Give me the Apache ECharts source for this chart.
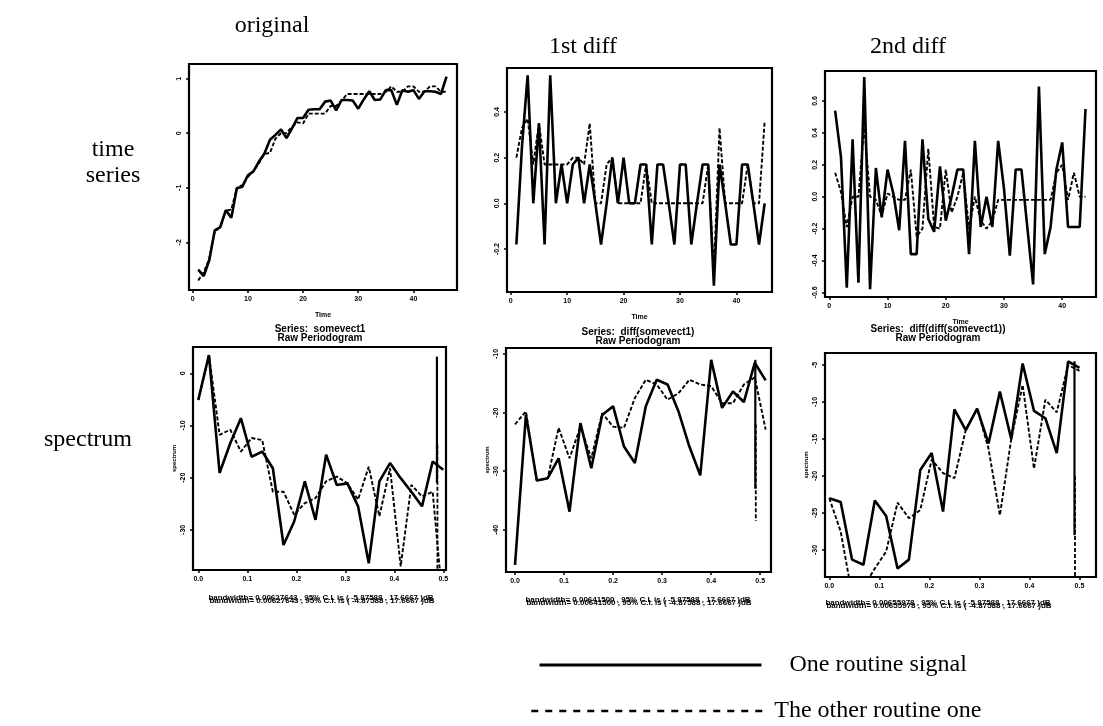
<!DOCTYPE html>
<html><head><meta charset="utf-8">
<script src="https://cdn.jsdelivr.net/npm/echarts@6/dist/echarts.min.js"></script>
<style>html,body{margin:0;padding:0;background:#fff}#c{width:1103px;height:726px}</style>
</head><body><div id="c"></div>
<script>
// ---- time series: original, 1st and 2nd differences ----
const origA = [-2.5, -2.62, -2.33, -1.78, -1.72, -1.41, -1.55, -1.01, -0.98, -0.77, -0.7, -0.52, -0.37, -0.12, -0.03, 0.07, -0.09, 0.09, 0.28, 0.28, 0.43, 0.44, 0.44, 0.58, 0.6, 0.42, 0.61, 0.61, 0.6, 0.45, 0.62, 0.77, 0.61, 0.62, 0.79, 0.79, 0.52, 0.79, 0.76, 0.79, 0.63, 0.77, 0.77, 0.76, 0.72, 1.04];
const origB = [-2.7, -2.55, -2.3, -1.8, -1.72, -1.42, -1.4, -1.0, -0.95, -0.8, -0.7, -0.55, -0.38, -0.36, -0.1, 0.0, 0.0, 0.12, 0.2, 0.18, 0.36, 0.36, 0.36, 0.36, 0.5, 0.5, 0.6, 0.72, 0.72, 0.72, 0.72, 0.72, 0.72, 0.72, 0.76, 0.86, 0.76, 0.76, 0.86, 0.86, 0.76, 0.76, 0.86, 0.86, 0.76, 0.76];
const diff1A = [-0.18, 0.25, 0.56, 0.0, 0.35, -0.18, 0.56, 0.0, 0.17, 0.0, 0.17, 0.2, 0.0, 0.17, 0.0, -0.18, 0.0, 0.2, 0.0, 0.2, 0.0, 0.0, 0.17, 0.17, -0.18, 0.17, 0.17, 0.0, -0.18, 0.17, 0.17, -0.18, 0.0, 0.17, 0.17, -0.36, 0.17, 0.0, -0.18, -0.18, 0.17, 0.17, 0.0, -0.18, 0.0];
const diff1B = [0.2, 0.33, 0.37, 0.17, 0.35, 0.17, 0.17, 0.17, 0.17, 0.17, 0.2, 0.2, 0.17, 0.35, 0.0, 0.0, 0.17, 0.2, 0.0, 0.0, 0.0, 0.0, 0.0, 0.17, 0.0, 0.0, 0.0, 0.0, 0.0, 0.0, 0.0, 0.0, 0.0, 0.0, 0.17, -0.3, 0.33, 0.0, 0.0, 0.0, 0.0, 0.17, 0.0, 0.0, 0.36];
const diff2A = [0.54, 0.25, -0.57, 0.36, -0.54, 0.75, -0.58, 0.18, -0.13, 0.17, 0.02, -0.21, 0.35, -0.36, -0.36, 0.36, -0.14, -0.22, 0.19, -0.15, 0.0, 0.17, 0.17, -0.36, 0.35, -0.19, 0.0, -0.19, 0.35, 0.05, -0.37, 0.17, 0.17, -0.19, -0.55, 0.69, -0.36, -0.19, 0.17, 0.34, -0.19, -0.19, -0.19, 0.55];
const diff2B = [0.15, 0.03, -0.19, 0.0, 0.0, 0.45, 0.0, -0.02, -0.12, 0.02, 0.0, -0.02, -0.02, 0.17, -0.25, -0.2, 0.3, -0.19, -0.2, 0.17, -0.1, 0.0, 0.15, -0.2, 0.0, -0.15, -0.2, -0.15, -0.02, -0.02, -0.02, -0.02, -0.02, -0.02, -0.02, -0.02, -0.02, -0.02, 0.15, 0.2, -0.02, 0.15, 0.0, 0.0];

// ---- raw periodograms (dB) ----
const specOrigA = [-5.1, 3.5, -19.1, -13.4, -8.6, -16.0, -15.0, -18.2, -32.9, -28.4, -20.7, -28.1, -15.6, -21.4, -21.1, -25.5, -36.4, -20.7, -17.2, -20.1, -22.7, -25.5, -16.9, -18.5];
const specOrigB = [-5.1, 3.5, -11.8, -10.8, -15.0, -12.4, -12.8, -22.7, -22.7, -27.1, -24.9, -23.9, -20.7, -19.8, -21.1, -24.2, -17.9, -27.4, -18.2, -37.0, -21.4, -23.6, -22.7, -45.0];
const specD1A = [-46.0, -20.4, -31.6, -31.2, -27.8, -36.9, -21.8, -29.5, -20.4, -18.9, -25.8, -28.6, -18.9, -14.4, -15.2, -19.8, -25.8, -30.7, -11.0, -19.2, -16.4, -18.2, -11.5, -14.5];
const specD1B = [-22.0, -19.8, -31.6, -31.2, -22.6, -27.8, -22.4, -27.8, -20.1, -22.4, -22.6, -17.5, -14.4, -15.2, -17.8, -16.7, -14.4, -15.2, -15.5, -18.4, -18.4, -15.2, -14.0, -22.9];
const specD2A = [-23.0, -23.5, -31.3, -32.0, -23.3, -25.4, -32.5, -31.3, -19.2, -16.9, -24.8, -11.0, -13.8, -10.9, -15.6, -8.6, -15.0, -4.8, -11.2, -12.2, -16.9, -4.5, -5.4];
const specD2B = [-23.0, -27.5, -36.0, -35.0, -32.5, -30.2, -23.6, -25.7, -24.6, -17.8, -19.6, -20.3, -13.8, -10.9, -16.3, -25.3, -15.0, -7.7, -19.0, -9.7, -11.4, -5.0, -5.8];

// frequency grids (cycles per observation)
const freqOrig = specOrigA.map((_, k) => k / 46);
const freqD1 = specD1A.map((_, k) => k / 45);
const freqD2 = specD2A.map((_, k) => k / 44);

// confidence-interval bars drawn in the corner of each periodogram: [freq, top, bottom]
const ciOrigA = [0.487, 3.2, -21.0], ciOrigB = [0.488, -13.7, -40.0];
const ciD1A = [0.49, -11.0, -33.0], ciD1B = [0.491, -22.0, -38.5];
const ciD2A = [0.49, -4.5, -28.0], ciD2B = [0.491, -20.0, -40.0];

// tick labels
const timeTicks = [0, 10, 20, 30, 40];
const origTicks = [-2, -1, 0, 1];
const diff1Ticks = [-0.2, 0.0, 0.2, 0.4];
const diff2Ticks = [-0.6, -0.4, -0.2, 0.0, 0.2, 0.4, 0.6];
const freqTicks = [0.0, 0.1, 0.2, 0.3, 0.4, 0.5];
const specOrigTicks = [-30, -20, -10, 0];
const specD1Ticks = [-40, -30, -20, -10];
const specD2Ticks = [-30, -25, -20, -15, -10, -5];

const bwText = [
  ['bandwidth= 0.00627643 , 95% C.I. is ( -5.87588 , 17.6667 )dB', 'bandwidth= 0.00627643 , 95% C.I. is ( -4.87588 , 17.6667 )dB'],
  ['bandwidth= 0.00641500 , 95% C.I. is ( -5.87588 , 17.6667 )dB', 'bandwidth= 0.00641500 , 95% C.I. is ( -4.87588 , 17.6667 )dB'],
  ['bandwidth= 0.00655978 , 95% C.I. is ( -5.87588 , 17.6667 )dB', 'bandwidth= 0.00655978 , 95% C.I. is ( -4.87588 , 17.6667 )dB']
];

const NAME_A = 'One routine signal';
const NAME_B = 'The other routine one';

const chart = echarts.init(document.getElementById('c'), null, {renderer: 'canvas'});

const panels = [
  {box: [189, 64, 268, 226], x: [-0.67, 47.9], y: [-2.875, 1.27], xt: timeTicks, yt: origTicks, xs: null, a: origA, b: origB, ytf: v => String(v), xtf: v => String(v), xname: 'Time'},
  {box: [507, 68, 265, 224], x: [-0.66, 46.3], y: [-0.388, 0.592], xt: timeTicks, yt: diff1Ticks, xs: null, a: diff1A, b: diff1B, ytf: v => v.toFixed(1), xtf: v => String(v), xname: 'Time'},
  {box: [825, 71, 271, 226], x: [-0.74, 45.8], y: [-0.629, 0.788], xt: timeTicks, yt: diff2Ticks, xs: null, a: diff2A, b: diff2B, ytf: v => v.toFixed(1), xtf: v => String(v), xname: 'Time'},
  {box: [193, 347, 253, 223], x: [-0.0108, 0.5055], y: [-37.7, 5.04], xt: freqTicks, yt: specOrigTicks, xs: freqOrig, a: specOrigA, b: specOrigB, ytf: v => String(v), xtf: v => v.toFixed(1), ci: [ciOrigA, ciOrigB], yname: 'spectrum'},
  {box: [506, 348, 265, 224], x: [-0.0184, 0.522], y: [-47.2, -8.98], xt: freqTicks, yt: specD1Ticks, xs: freqD1, a: specD1A, b: specD1B, ytf: v => String(v), xtf: v => v.toFixed(1), ci: [ciD1A, ciD1B], yname: 'spectrum'},
  {box: [825, 353, 271, 224], x: [-0.0086, 0.533], y: [-33.65, -3.38], xt: freqTicks, yt: specD2Ticks, xs: freqD2, a: specD2A, b: specD2B, ytf: v => String(v), xtf: v => v.toFixed(1), ci: [ciD2A, ciD2B], yname: 'spectrum'}
];

const tickFont = {fontFamily: 'Liberation Sans', fontWeight: 'bold', fontSize: 7, color: '#000'};
const grid = [], xAxis = [], yAxis = [], series = [];

panels.forEach((p, i) => {
  grid.push({left: p.box[0], top: p.box[1], width: p.box[2], height: p.box[3], show: true,
    borderColor: '#000', borderWidth: 2.2, backgroundColor: 'transparent'});
  xAxis.push({type: 'value', gridIndex: i, min: p.x[0], max: p.x[1], position: 'bottom',
    axisLine: {show: false, onZero: false}, splitLine: {show: false},
    axisTick: {show: true, inside: false, length: 3, customValues: p.xt, lineStyle: {color: '#000', width: 1.5}},
    axisLabel: Object.assign({margin: 6, customValues: p.xt, formatter: p.xtf}, tickFont),
    name: p.xname || '', nameLocation: 'middle', nameGap: 22,
    nameTextStyle: {fontFamily: 'Liberation Sans', fontWeight: 'bold', fontSize: 7, color: '#000'}});
  yAxis.push({type: 'value', gridIndex: i, min: p.y[0], max: p.y[1], position: 'left',
    axisLine: {show: false, onZero: false}, splitLine: {show: false},
    axisTick: {show: true, inside: false, length: 3, customValues: p.yt, lineStyle: {color: '#000', width: 1.5}},
    axisLabel: Object.assign({margin: 6, rotate: 90, customValues: p.yt, formatter: p.ytf}, tickFont),
    name: p.yname || '', nameLocation: 'middle', nameGap: 16,
    nameTextStyle: {fontFamily: 'Liberation Sans', fontWeight: 'bold', fontSize: 6, color: '#000'}});

  const xsOf = (arr) => arr.map((v, k) => [p.xs ? p.xs[k] : k + 1, v]);
  series.push({name: NAME_B, type: 'line', xAxisIndex: i, yAxisIndex: i, symbol: 'none', animation: false,
    data: xsOf(p.b), itemStyle: {color: '#000'}, lineStyle: {color: '#000', width: 1.9, type: [4, 2]}, z: 2});
  series.push({name: NAME_A, type: 'line', xAxisIndex: i, yAxisIndex: i, symbol: 'none', animation: false,
    data: xsOf(p.a), itemStyle: {color: '#000'}, lineStyle: {color: '#000', width: 2.6, type: 'solid'}, z: 3});
  if (p.ci) {
    series.push({name: 'ci', type: 'line', xAxisIndex: i, yAxisIndex: i, symbol: 'none', animation: false,
      data: [[p.ci[0][0], p.ci[0][1]], [p.ci[0][0], p.ci[0][2]]], lineStyle: {color: '#000', width: 2.2}, z: 3});
    series.push({name: 'ci', type: 'line', xAxisIndex: i, yAxisIndex: i, symbol: 'none', animation: false,
      data: [[p.ci[1][0], p.ci[1][1]], [p.ci[1][0], p.ci[1][2]]], lineStyle: {color: '#000', width: 1.8, type: [4, 2]}, z: 3});
  }
});

const serif = 'Liberation Serif';
const graphic = [
  {type: 'text', x: 272, y: 14, style: {text: 'original', font: '24px "Liberation Serif"', fill: '#000', align: 'center'}},
  {type: 'text', x: 583, y: 35, style: {text: '1st diff', font: '24px "Liberation Serif"', fill: '#000', align: 'center'}},
  {type: 'text', x: 908, y: 35, style: {text: '2nd diff', font: '24px "Liberation Serif"', fill: '#000', align: 'center'}},
  {type: 'text', x: 113, y: 138, style: {text: 'time', font: '24px "Liberation Serif"', fill: '#000', align: 'center'}},
  {type: 'text', x: 113, y: 164, style: {text: 'series', font: '24px "Liberation Serif"', fill: '#000', align: 'center'}},
  {type: 'text', x: 88, y: 428, style: {text: 'spectrum', font: '24px "Liberation Serif"', fill: '#000', align: 'center'}}
];
const specTitles = [['Series:  somevect1', 320], ['Series:  diff(somevect1)', 638], ['Series:  diff(diff(somevect1))', 938]];
const titleTops = [325, 328, 325];
specTitles.forEach((t, i) => {
  graphic.push({type: 'text', x: t[1], y: titleTops[i], style: {text: t[0] + '\nRaw Periodogram', font: 'bold 10px "Liberation Sans"', lineHeight: 9, fill: '#000', align: 'center'}});
});
const bwX = [321, 638, 938], bwY = [594, 596, 599];
bwText.forEach((pair, i) => {
  graphic.push({type: 'text', x: bwX[i], y: bwY[i], style: {text: pair[0], font: 'bold 8px "Liberation Sans"', fill: '#000', align: 'center'}});
  graphic.push({type: 'text', x: bwX[i] + 1, y: bwY[i] + 3, style: {text: pair[1], font: 'bold 8px "Liberation Sans"', fill: '#000', align: 'center'}});
});

chart.setOption({
  backgroundColor: '#fff',
  animation: false,
  grid, xAxis, yAxis, series, graphic,
  legend: [
    {data: [NAME_A], left: 533, top: 648, itemWidth: 222, itemHeight: 14, selectedMode: false,
      itemStyle: {opacity: 0},
      textStyle: {fontFamily: serif, fontSize: 24, color: '#000', padding: [0, 0, 0, 23]},
      lineStyle: {width: 3}},
    {data: [NAME_B], left: 525, top: 694, itemWidth: 236, itemHeight: 14, selectedMode: false,
      itemStyle: {opacity: 0},
      textStyle: {fontFamily: serif, fontSize: 24, color: '#000', padding: [0, 0, 0, 2]},
      lineStyle: {width: 2.5, type: [7, 7]}}
  ]
});
</script></body></html>
